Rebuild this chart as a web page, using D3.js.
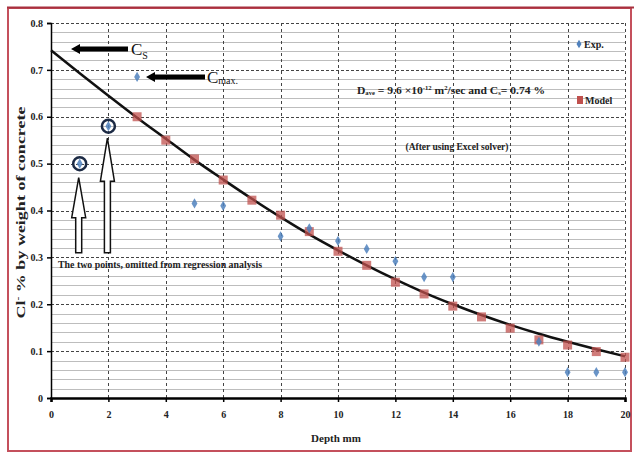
<!DOCTYPE html>
<html>
<head>
<meta charset="utf-8">
<script src="https://cdn.jsdelivr.net/npm/d3@7"></script>
<style>
  body { margin: 0; background: #fff; }
  svg { display: block; font-family: "Liberation Serif", "DejaVu Serif", serif; font-weight: bold; }
</style>
</head>
<body>
<svg width="634" height="454"></svg>
<script>
// depth (mm) and chloride content (% by weight of concrete)
var expDepth  = [1, 2, 3, 5, 6, 8, 9, 10, 11, 12, 13, 14, 17, 18, 19, 20];
var expValue  = [0.50, 0.58, 0.685, 0.415, 0.41, 0.345, 0.362, 0.335, 0.318, 0.292, 0.258, 0.258, 0.12, 0.055, 0.055, 0.055];

var modelDepth = [3, 4, 5, 6, 7, 8, 9, 10, 11, 12, 13, 14, 15, 16, 17, 18, 19, 20];
var modelValue = [0.60, 0.55, 0.51, 0.465, 0.422, 0.39, 0.355, 0.313, 0.283, 0.247, 0.222, 0.196, 0.173, 0.149, 0.124, 0.113, 0.099, 0.087];

var fitDepth = [0, 1, 2, 3, 4, 5, 6, 7, 8, 9, 10, 11, 12, 13, 14, 15, 16, 17, 18, 19, 20];
var fitValue = [0.742, 0.693, 0.645, 0.598, 0.553, 0.508, 0.466, 0.425, 0.386, 0.349, 0.315, 0.283, 0.253, 0.225, 0.200, 0.177, 0.156, 0.137, 0.120, 0.104, 0.089];

var omittedDepth = [1, 2];   // the two circled points
var omittedValue = [0.50, 0.58];

var xTicks = [0, 2, 4, 6, 8, 10, 12, 14, 16, 18, 20];
var yTicks = [0, 0.1, 0.2, 0.3, 0.4, 0.5, 0.6, 0.7, 0.8];

var svg = d3.select("svg"),
    width = +svg.attr("width"),
    height = +svg.attr("height");

var margin = {top: 23, right: 9, bottom: 56, left: 51};

var x = d3.scaleLinear().domain([0, 20]).range([margin.left, width - margin.right]);
var y = d3.scaleLinear().domain([0, 0.8]).range([height - margin.bottom, margin.top]);

// outer frame
svg.append("rect")
    .attr("x", 8).attr("y", 8)
    .attr("width", 623).attr("height", 443)
    .attr("fill", "none")
    .attr("stroke", "#c4505c")
    .attr("stroke-width", 2);
svg.append("line")
    .attr("x1", 7).attr("x2", 634).attr("y1", 7.5).attr("y2", 7.5)
    .attr("stroke", "#a8303e").attr("stroke-width", 2);

// minor horizontal grid
var minor = d3.range(0.02, 0.8, 0.02).filter(function(v) { return Math.abs(v * 10 - Math.round(v * 10)) > 0.01; });
svg.append("g")
  .selectAll("line")
  .data(minor)
  .enter().append("line")
    .attr("x1", x(0)).attr("x2", x(20))
    .attr("y1", function(d) { return Math.round(y(d)) + 0.5; })
    .attr("y2", function(d) { return Math.round(y(d)) + 0.5; })
    .attr("stroke", "#bdbdbd")
    .attr("stroke-width", 1);

// major grid (dashed)
svg.append("g")
  .selectAll("line")
  .data(yTicks.slice(1))
  .enter().append("line")
    .attr("x1", x(0)).attr("x2", x(20))
    .attr("y1", function(d) { return Math.round(y(d)) + 0.5; })
    .attr("y2", function(d) { return Math.round(y(d)) + 0.5; })
    .attr("stroke", "#444")
    .attr("stroke-dasharray", "3,2")
    .attr("stroke-width", 1);

svg.append("g")
  .selectAll("line")
  .data(xTicks.slice(1))
  .enter().append("line")
    .attr("x1", function(d) { return Math.round(x(d)) + 0.5; })
    .attr("x2", function(d) { return Math.round(x(d)) + 0.5; })
    .attr("y1", y(0)).attr("y2", y(0.8))
    .attr("stroke", "#444")
    .attr("stroke-dasharray", "3,3")
    .attr("stroke-width", 1);

// axes
var yAxis = svg.append("g")
    .attr("transform", "translate(" + x(0) + ",0)")
    .call(d3.axisLeft(y).tickValues(yTicks).tickSize(4).tickFormat(function(d) { return d === 0 ? "0" : d3.format(".1f")(d); }));
var xAxis = svg.append("g")
    .attr("transform", "translate(0," + y(0) + ")")
    .call(d3.axisBottom(x).tickValues(xTicks).tickSize(4).tickPadding(9));

[yAxis, xAxis].forEach(function(a) {
  a.select(".domain").attr("stroke", "#000").attr("stroke-width", 1.5);
  a.selectAll(".tick line").attr("stroke", "#000").attr("stroke-width", 1.5);
  a.selectAll("text")
      .attr("font-family", "Liberation Serif, serif")
      .attr("font-weight", "bold")
      .attr("font-size", 10)
      .attr("fill", "#222");
});
xAxis.select(".domain").attr("stroke-width", 2.5);
yAxis.selectAll("text").attr("x", -8);

// axis titles
svg.append("text")
    .attr("transform", "translate(25," + ((y(0) + y(0.8)) / 2 + 2) + ") rotate(-90)")
    .attr("text-anchor", "middle")
    .attr("font-size", 12.5)
    .attr("fill", "#222")
    .attr("textLength", 212).attr("lengthAdjust", "spacingAndGlyphs")
    .html("Cl<tspan dy='-4' font-size='8'>-</tspan><tspan dy='4'> % by weight of concrete</tspan>");

svg.append("text")
    .attr("x", (x(0) + x(20)) / 2 - 2)
    .attr("y", 442)
    .attr("text-anchor", "middle")
    .attr("font-size", 11)
    .attr("fill", "#222")
    .text("Depth mm");

// fitted curve
var line = d3.line()
    .x(function(d, i) { return x(fitDepth[i]); })
    .y(function(d, i) { return y(fitValue[i]); })
    .curve(d3.curveMonotoneX);

svg.append("path")
    .datum(fitValue)
    .attr("d", line)
    .attr("fill", "none")
    .attr("stroke", "#111")
    .attr("stroke-width", 2.5);

// model points
svg.append("g")
  .selectAll("rect")
  .data(modelValue)
  .enter().append("rect")
    .attr("x", function(d, i) { return x(modelDepth[i]) - 4.5; })
    .attr("y", function(d) { return y(d) - 4.5; })
    .attr("width", 9).attr("height", 9)
    .attr("fill", "#c0504d")
    .attr("opacity", 0.75);

// exp points
var diamond = d3.symbol().type(d3.symbolDiamond).size(30);
svg.append("g")
  .selectAll("path")
  .data(expValue)
  .enter().append("path")
    .attr("d", diamond)
    .attr("transform", function(d, i) { return "translate(" + x(expDepth[i]) + "," + y(d) + ")"; })
    .attr("fill", "#4f81bd")
    .attr("opacity", 0.85);

// circles round the omitted points
svg.append("g")
  .selectAll("circle")
  .data(omittedValue)
  .enter().append("circle")
    .attr("cx", function(d, i) { return x(omittedDepth[i]); })
    .attr("cy", function(d) { return y(d); })
    .attr("r", 6.5)
    .attr("fill", "none")
    .attr("stroke", "#1c2a44")
    .attr("stroke-width", 2.5);

// hollow up arrows pointing at them
function upArrow(cx, tip, headBase, bottom) {
  var s = 3, h = 7;
  return "M" + cx + "," + tip +
    "L" + (cx + h) + "," + headBase + "L" + (cx + s) + "," + headBase +
    "L" + (cx + s) + "," + bottom + "L" + (cx - s) + "," + bottom +
    "L" + (cx - s) + "," + headBase + "L" + (cx - h) + "," + headBase + "Z";
}
svg.append("path")
    .attr("d", upArrow(x(1) - 1, y(0.5) + 14, y(0.5) + 54, y(0.31)))
    .attr("fill", "#fff").attr("stroke", "#111").attr("stroke-width", 1.5);
svg.append("path")
    .attr("d", upArrow(x(2) - 1, y(0.58) + 12, y(0.58) + 55, y(0.31)))
    .attr("fill", "#fff").attr("stroke", "#111").attr("stroke-width", 1.5);

svg.append("text")
    .attr("x", 58).attr("y", 268)
    .attr("font-size", 10.5)
    .attr("fill", "#222")
    .attr("textLength", 204).attr("lengthAdjust", "spacingAndGlyphs")
    .text("The two points, omitted from regression analysis");

// black left arrows for Cs and Cmax
function leftArrow(x0, x1, yy) {
  return "M" + x0 + "," + yy +
    "L" + (x0 + 9) + "," + (yy - 5) + "L" + (x0 + 9) + "," + (yy - 2.5) +
    "L" + x1 + "," + (yy - 2.5) + "L" + x1 + "," + (yy + 2.5) +
    "L" + (x0 + 9) + "," + (yy + 2.5) + "L" + (x0 + 9) + "," + (yy + 5) + "Z";
}
svg.append("path").attr("d", leftArrow(71, 128, 49)).attr("fill", "#000");
svg.append("path").attr("d", leftArrow(146, 205, 77)).attr("fill", "#000");

svg.append("text")
    .attr("x", 131).attr("y", 55)
    .attr("font-size", 17).attr("font-weight", "normal")
    .attr("fill", "#111")
    .html("C<tspan font-size='10' dy='4'>S</tspan>");
svg.append("text")
    .attr("x", 207).attr("y", 83)
    .attr("font-size", 17).attr("font-weight", "normal")
    .attr("fill", "#111")
    .html("C<tspan font-size='10' dy='1'>max.</tspan>");

// model text
svg.append("text")
    .attr("x", 357).attr("y", 94)
    .attr("font-size", 10.5)
    .attr("fill", "#222")
    .attr("textLength", 188).attr("lengthAdjust", "spacingAndGlyphs")
    .html("D<tspan font-size='6' dy='1'>ave</tspan><tspan dy='-1'> = 9.6 ×10</tspan><tspan font-size='6' dy='-4'>-12</tspan><tspan dy='4'> m</tspan><tspan font-size='6' dy='-4'>2</tspan><tspan dy='4'>/sec and C</tspan><tspan font-size='6' dy='1'>s</tspan><tspan dy='-1'>= 0.74 %</tspan>");

svg.append("text")
    .attr("x", 457).attr("y", 150)
    .attr("text-anchor", "middle")
    .attr("font-size", 9.5)
    .attr("fill", "#222")
    .text("(After using Excel solver)");

// legend
var legend = svg.append("g").attr("font-size", 10).attr("fill", "#222");
legend.append("path")
    .attr("d", d3.symbol().type(d3.symbolDiamond).size(22))
    .attr("transform", "translate(579,44)")
    .attr("fill", "#4f81bd");
legend.append("text").attr("x", 584).attr("y", 48).text("Exp.");
legend.append("rect")
    .attr("x", 577).attr("y", 96).attr("width", 6).attr("height", 8)
    .attr("fill", "#c0504d");
legend.append("text").attr("x", 585).attr("y", 104).text("Model");
</script>
</body>
</html>
